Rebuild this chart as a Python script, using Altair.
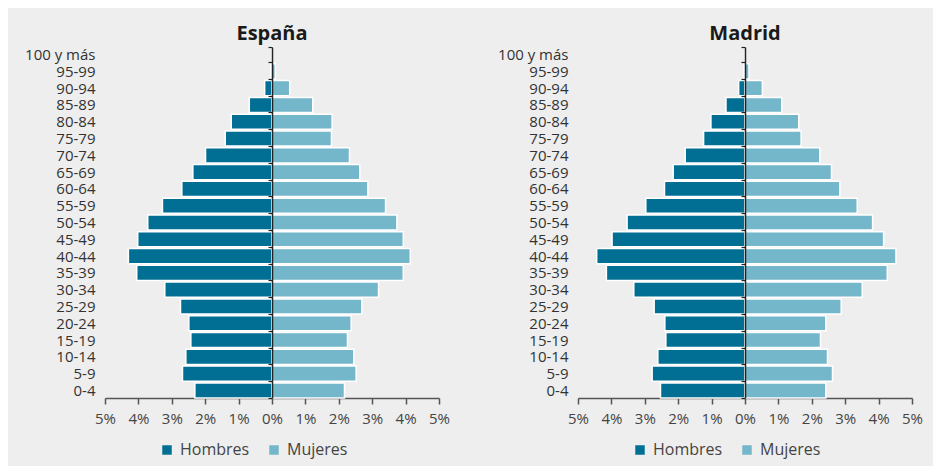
import altair as alt
import pandas as pd

ages = ["100 y más", "95-99", "90-94", "85-89", "80-84", "75-79", "70-74",
        "65-69", "60-64", "55-59", "50-54", "45-49", "40-44", "35-39",
        "30-34", "25-29", "20-24", "15-19", "10-14", "5-9", "0-4"]

esp_hombres = [0.01, 0.04, 0.22, 0.68, 1.22, 1.40, 1.99, 2.37, 2.70, 3.28, 3.72,
               4.02, 4.30, 4.05, 3.21, 2.74, 2.49, 2.43, 2.58, 2.68, 2.31]
esp_mujeres = [0.02, 0.10, 0.53, 1.22, 1.80, 1.78, 2.32, 2.63, 2.87, 3.40, 3.74,
               3.93, 4.14, 3.93, 3.19, 2.69, 2.37, 2.26, 2.45, 2.52, 2.17]

mad_hombres = [0.01, 0.03, 0.19, 0.57, 1.02, 1.24, 1.79, 2.15, 2.41, 2.97, 3.53,
               3.98, 4.44, 4.15, 3.33, 2.72, 2.40, 2.37, 2.61, 2.78, 2.53]
mad_mujeres = [0.02, 0.12, 0.52, 1.10, 1.61, 1.68, 2.24, 2.59, 2.84, 3.36, 3.82,
               4.15, 4.52, 4.26, 3.51, 2.88, 2.42, 2.26, 2.47, 2.62, 2.42]

sexos = ["Hombres", "Mujeres"]
colores = ["#006f93", "#74b6ca"]
ticks = [-5, -4, -3, -2, -1, 0, 1, 2, 3, 4, 5]


def make_df(h, m):
    rows = []
    for a, hv, mv in zip(ages, h, m):
        rows.append({"edad": a, "sexo": "Hombres", "v": -hv})
        rows.append({"edad": a, "sexo": "Mujeres", "v": mv})
    return pd.DataFrame(rows)


def panel(df, title):
    return alt.Chart(df).mark_bar(stroke="white", strokeWidth=1.5).encode(
        x=alt.X("v:Q",
                scale=alt.Scale(domain=[-5, 5], nice=False, zero=False),
                axis=alt.Axis(values=ticks, labelExpr="abs(datum.value) + '%'",
                              title=None, grid=False, labelFlush=False,
                              domainColor="#555555",
                              tickColor="#555555", tickSize=6, labelPadding=7,
                              labelFontSize=15, labelColor="#444444",
                              domainWidth=1.5, tickWidth=1.5)),
        y=alt.Y("edad:N", sort=ages,
                scale=alt.Scale(paddingInner=0.1, paddingOuter=0.0),
                axis=alt.Axis(title=None, orient="left", offset=-167,
                              tickBand="extent", tickSize=4,
                              domainColor="#222222", tickColor="#222222",
                              domainWidth=1.5, tickWidth=1.2,
                              labelPadding=173, labelFontSize=15,
                              labelColor="#333333", zindex=1)),
        color=alt.Color("sexo:N",
                        scale=alt.Scale(domain=sexos, range=colores),
                        legend=alt.Legend(title=None, orient="none",
                                          direction="horizontal",
                                          legendX=54, legendY=395, padding=0,
                                          symbolType="square", symbolSize=90,
                                          symbolStrokeWidth=0, symbolOpacity=1,
                                          labelFontSize=16, labelColor="#444444",
                                          labelOffset=5, columnPadding=16)),
    ).properties(
        width=334, height=351,
        title=alt.TitleParams(title, fontSize=20, fontWeight="bold",
                              color="#1a1a1a", offset=-4),
    )


chart = alt.hconcat(
    panel(make_df(esp_hombres, esp_mujeres), "España"),
    panel(make_df(mad_hombres, mad_mujeres), "Madrid"),
    spacing=47,
).resolve_legend(color="independent").resolve_scale(color="independent").properties(
    background="#eeeeee",
    padding={"left": 16, "top": 16, "right": 10, "bottom": 8},
).configure(font="Open Sans").configure_view(stroke=None)

chart.save("out.html", embed_options={"renderer": "svg", "actions": False})
